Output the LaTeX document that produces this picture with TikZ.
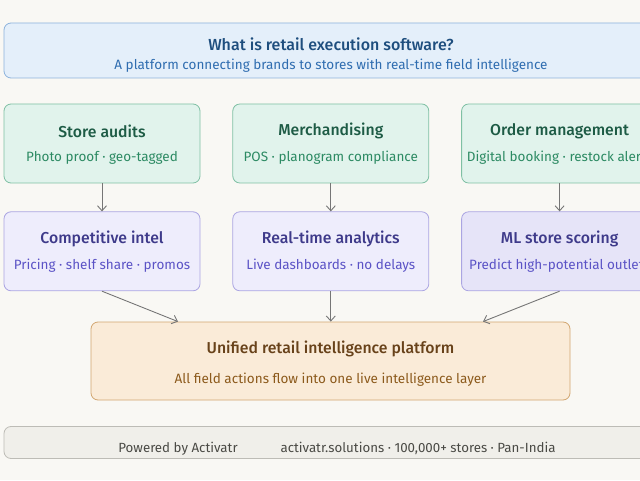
\documentclass[tikz,border=0pt]{standalone}
\usepackage{fontspec}
\setmainfont{Fira Sans}[BoldFont={Fira Sans Medium}]
\usetikzlibrary{arrows.meta, positioning}

\definecolor{bgcream}{HTML}{F9F8F4}
\definecolor{bluefill}{HTML}{E4EFFA}
\definecolor{blueline}{HTML}{8DB3DC}
\definecolor{bluetext}{HTML}{1E4E7E}
\definecolor{bluesub}{HTML}{2F6DB0}
\definecolor{greenfill}{HTML}{E1F3EC}
\definecolor{greenline}{HTML}{7FC0A4}
\definecolor{greentext}{HTML}{1D5B45}
\definecolor{greensub}{HTML}{2C8A63}
\definecolor{purplefill}{HTML}{EEEDFC}
\definecolor{purplefilldk}{HTML}{E6E4F8}
\definecolor{purpleline}{HTML}{ABA5E2}
\definecolor{purpletext}{HTML}{3E3A8A}
\definecolor{purplesub}{HTML}{5B53C6}
\definecolor{orangefill}{HTML}{FAEBD8}
\definecolor{orangeline}{HTML}{D2A670}
\definecolor{orangetext}{HTML}{68421A}
\definecolor{orangesub}{HTML}{8C5A1C}
\definecolor{footfill}{HTML}{F0EFEA}
\definecolor{footline}{HTML}{BDBCB6}
\definecolor{foottext}{HTML}{4A4A45}
\definecolor{arrowgrey}{HTML}{767676}

\begin{document}
\begin{tikzpicture}[
    x=1pt, y=1pt,
    card/.style={rectangle, rounded corners=7pt, line width=0.8pt, minimum width=196pt, minimum height=79pt, inner sep=0pt},
    headcard/.style={card, fill=bluefill, draw=blueline, minimum width=654pt, minimum height=55pt},
    capture/.style={card, fill=greenfill, draw=greenline},
    insight/.style={card, fill=purplefill, draw=purpleline},
    platform/.style={card, fill=orangefill, draw=orangeline, minimum width=479pt, minimum height=78pt},
    footcard/.style={card, fill=footfill, draw=footline, minimum width=654pt, minimum height=32pt},
    ttl/.style={font=\fontsize{15.8}{18}\selectfont\bfseries, inner sep=0pt},
    sub/.style={font=\fontsize{13.5}{15}\selectfont, inner sep=0pt},
    foot/.style={font=\fontsize{13.3}{15}\selectfont, inner sep=0pt, text=foottext},
    arr/.style={line width=0.9pt, draw=arrowgrey, -{Straight Barb[length=5pt, width=9pt]}},
    node distance=28pt and 32pt
  ]
    \fill[bgcream] (0,0) rectangle (640,480);
    \clip (0,0) rectangle (640,480);

    % --- Header ---
    \node[headcard] (head) at (331,429.5) {};
    \node[ttl, font=\fontsize{16}{18}\selectfont\bfseries, text=bluetext] at ([yshift=6.5pt]head.center) {What is retail execution software?};
    \node[sub, text=bluesub] at ([yshift=-15pt]head.center) {A platform connecting brands to stores with real-time field intelligence};

    % --- Field capture (green) ---
    \node[capture] (audit) at (102,336.5) {};
    \node[capture, right=of audit] (merch) {};
    \node[capture, right=of merch] (order) {};
    \node[ttl, text=greentext] at ([yshift=12.5pt]audit.center) {Store audits};
    \node[sub, text=greensub] at ([yshift=-14.5pt]audit.center) {Photo proof · geo-tagged};
    \node[ttl, text=greentext] at ([yshift=12.5pt]merch.center) {Merchandising};
    \node[sub, text=greensub] at ([yshift=-14.5pt]merch.center) {POS · planogram compliance};
    \node[ttl, text=greentext] at ([yshift=12.5pt]order.center) {Order management};
    \node[sub, text=greensub] at ([yshift=-14.5pt]order.center) {Digital booking · restock alerts};

    % --- Insight layer (purple) ---
    \node[insight, below=of audit] (intel) {};
    \node[insight, below=of merch] (live) {};
    \node[insight, below=of order, fill=purplefilldk] (score) {};
    \node[ttl, text=purpletext] at ([yshift=12.5pt]intel.center) {Competitive intel};
    \node[sub, text=purplesub] at ([yshift=-14.5pt]intel.center) {Pricing · shelf share · promos};
    \node[ttl, text=purpletext] at ([yshift=12.5pt]live.center) {Real-time analytics};
    \node[sub, text=purplesub] at ([yshift=-14.5pt]live.center) {Live dashboards · no delays};
    \node[ttl, text=purpletext] at ([yshift=12.5pt]score.center) {ML store scoring};
    \node[sub, text=purplesub] at ([yshift=-14.5pt]score.center) {Predict high-potential outlets};

    % --- Platform (orange) ---
    \node[platform] (hub) at (330.5,119) {};
    \node[ttl, text=orangetext] at ([yshift=12pt]hub.center) {Unified retail intelligence platform};
    \node[sub, text=orangesub] at ([yshift=-18.5pt]hub.center) {All field actions flow into one live intelligence layer};

    % --- Footer ---
    \node[footcard] (foot) at (331,37.5) {};
    \node[foot] at (178,31.5) {Powered by Activatr};
    \node[foot] at (418,31.5) {activatr.solutions · 100,000+ stores · Pan-India};

    % --- Arrows ---
    \draw[arr] (audit) -- (intel);
    \draw[arr] (merch) -- (live);
    \draw[arr] (order) -- (score);
    \draw[arr] (intel.south) -- (hub.north -| 178,0);
    \draw[arr] (live.south) -- (hub.north -| live.south);
    \draw[arr] (score.south) -- (hub.north -| 483,0);

\end{tikzpicture}
\end{document}
